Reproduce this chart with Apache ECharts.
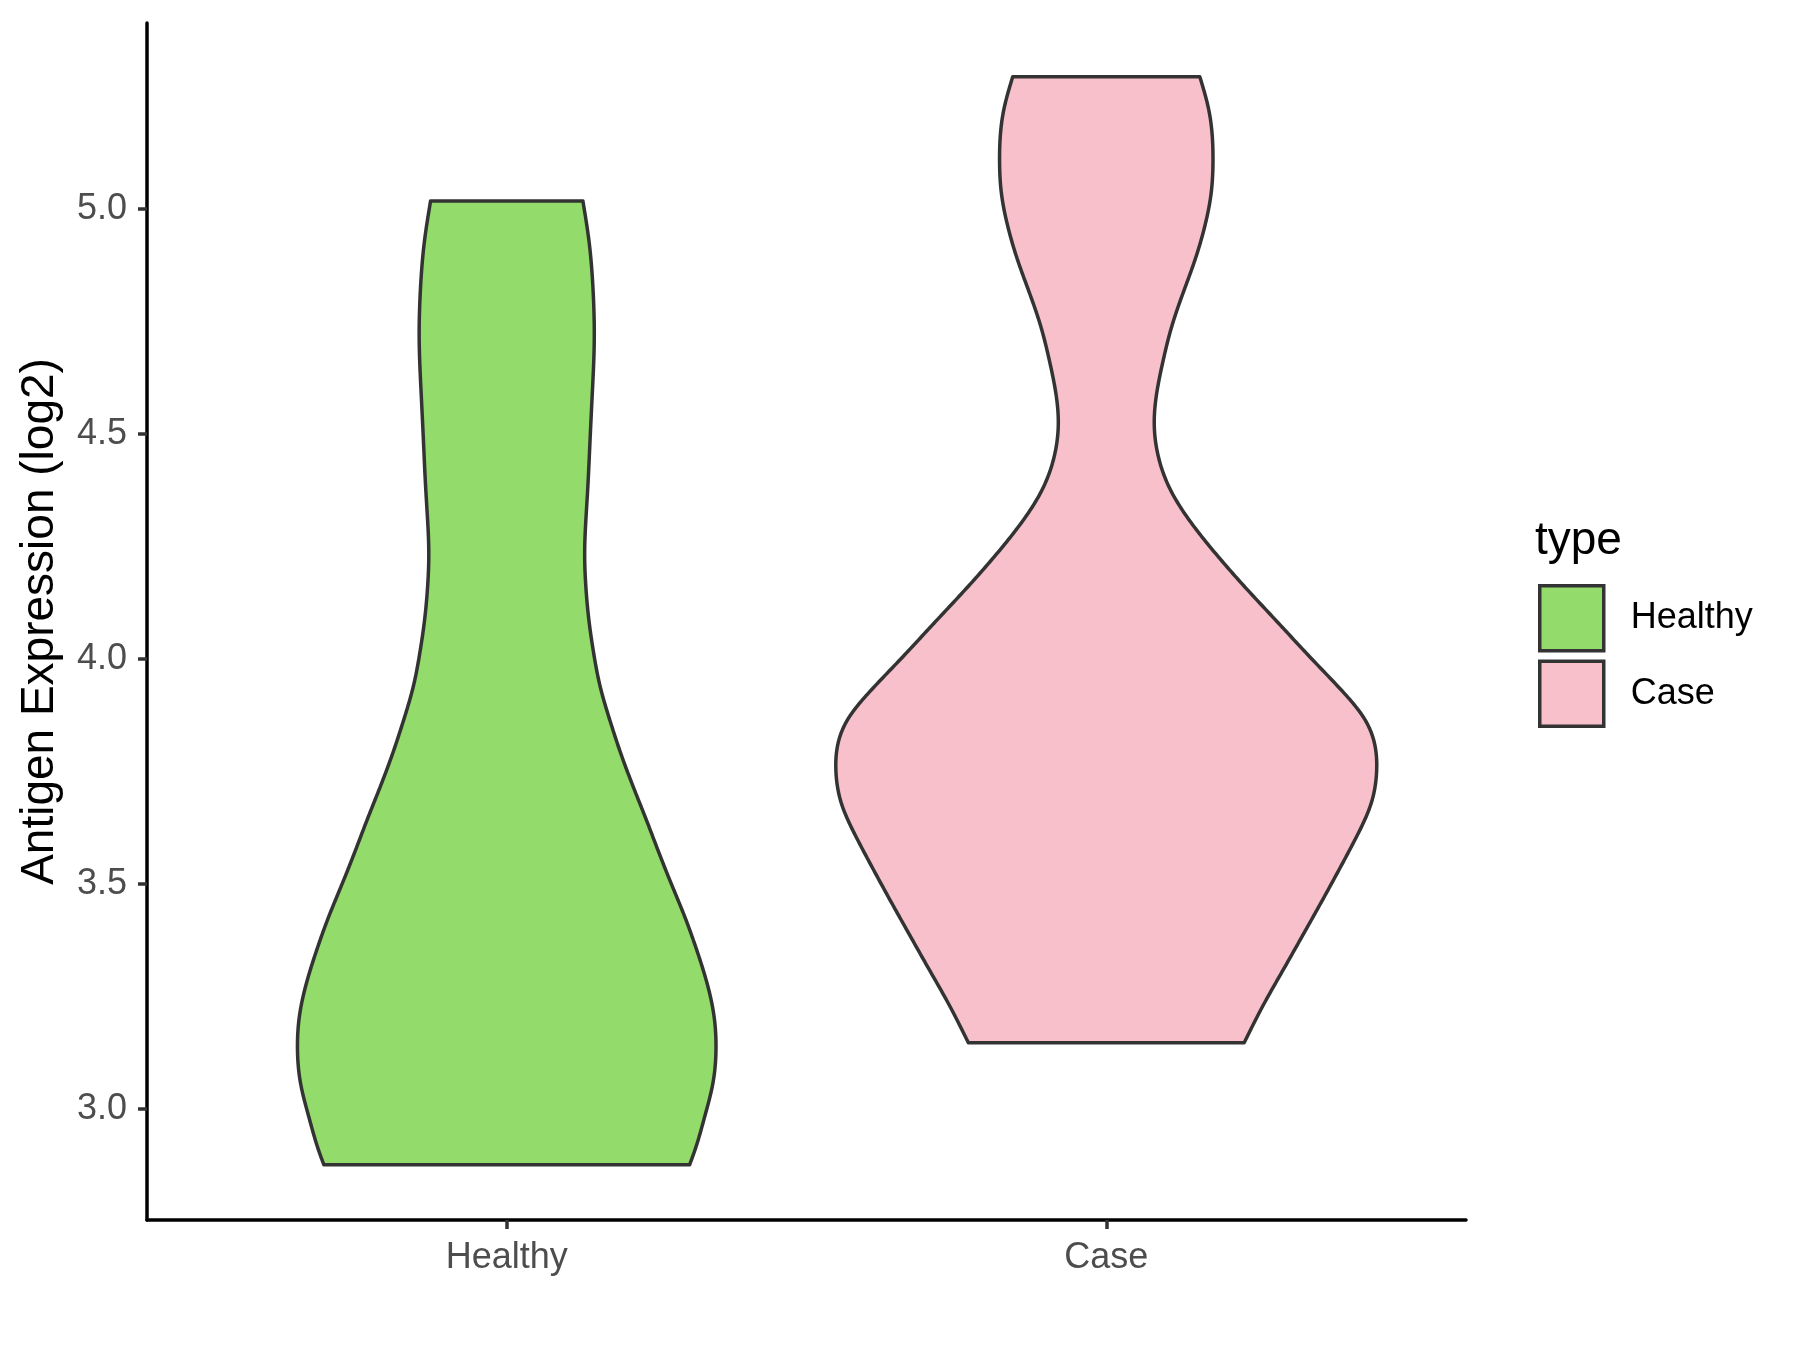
<!DOCTYPE html>
<html>
<head>
<meta charset="utf-8">
<script src="https://cdn.jsdelivr.net/npm/echarts@6/dist/echarts.min.js"></script>
<style>
html,body{margin:0;padding:0;background:#fff;}
#chart{width:1800px;height:1350px;}
</style>
</head>
<body>
<div id="chart"></div>
<script>
// ---- data ----
var categories = ['Healthy', 'Case'];
var yTicks = [3.0, 3.5, 4.0, 4.5, 5.0];
var fillColors = ['#93DC6B', '#F7C0CB'];

// violin profiles: value (log2 expression) and density half-width (in category-axis units)
var healthyY  = [2.876, 2.909, 2.982, 3.058, 3.131, 3.204, 3.280, 3.353, 3.427, 3.502, 3.569, 3.642, 3.716, 3.791, 3.864, 3.938, 4.013, 4.087, 4.160, 4.236, 4.309, 4.376, 4.487, 4.598, 4.709, 4.820, 4.931, 5.018];
var healthyHW = [0.305, 0.314, 0.330, 0.344, 0.349, 0.346, 0.334, 0.317, 0.297, 0.274, 0.254, 0.233, 0.211, 0.190, 0.172, 0.156, 0.145, 0.137, 0.132, 0.130, 0.132, 0.135, 0.139, 0.143, 0.146, 0.144, 0.137, 0.127];

var caseY  = [3.147, 3.236, 3.309, 3.382, 3.458, 3.531, 3.604, 3.680, 3.753, 3.864, 3.931, 4.004, 4.080, 4.153, 4.227, 4.302, 4.376, 4.449, 4.524, 4.598, 4.664, 4.738, 4.813, 4.887, 4.960, 5.036, 5.109, 5.220, 5.294];
var caseHW = [0.230, 0.264, 0.295, 0.326, 0.358, 0.388, 0.417, 0.442, 0.451, 0.432, 0.392, 0.340, 0.287, 0.236, 0.187, 0.142, 0.107, 0.087, 0.080, 0.085, 0.095, 0.109, 0.128, 0.148, 0.164, 0.175, 0.178, 0.171, 0.156];

var profiles = [
  {y: healthyY, hw: healthyHW},
  {y: caseY, hw: caseHW}
];

// natural cubic spline slopes (d hw / d y) at each knot, used only to draw a smooth outline
function splineSlopes(ys, xs) {
  var n = ys.length, h = [], i;
  for (i = 0; i < n - 1; i++) h.push(ys[i + 1] - ys[i]);
  var a = [], b = [], c = [], d = [];
  for (i = 0; i < n; i++) {
    if (i === 0 || i === n - 1) { a.push(0); b.push(1); c.push(0); d.push(0); }
    else {
      a.push(h[i - 1]); b.push(2 * (h[i - 1] + h[i])); c.push(h[i]);
      d.push(6 * ((xs[i + 1] - xs[i]) / h[i] - (xs[i] - xs[i - 1]) / h[i - 1]));
    }
  }
  for (i = 1; i < n; i++) { var w = a[i] / b[i - 1]; b[i] -= w * c[i - 1]; d[i] -= w * d[i - 1]; }
  var M = new Array(n);
  M[n - 1] = d[n - 1] / b[n - 1];
  for (i = n - 2; i >= 0; i--) M[i] = (d[i] - c[i] * M[i + 1]) / b[i];
  var m = [];
  for (i = 0; i < n - 1; i++) m.push((xs[i + 1] - xs[i]) / h[i] - h[i] * (2 * M[i] + M[i + 1]) / 6);
  m.push((xs[n - 1] - xs[n - 2]) / h[n - 2] + h[n - 2] * (M[n - 2] + 2 * M[n - 1]) / 6);
  return m;
}

// outline of one side (half widths), bottom to top, sampled along Hermite segments
function outline(ys, hw, slopes) {
  var out = [], SUB = 16;
  for (var i = 0; i < ys.length - 1; i++) {
    var h = ys[i + 1] - ys[i];
    for (var k = 0; k < SUB; k++) {
      var t = k / SUB, t2 = t * t, t3 = t2 * t;
      var h00 = 2 * t3 - 3 * t2 + 1, h10 = t3 - 2 * t2 + t, h01 = -2 * t3 + 3 * t2, h11 = t3 - t2;
      out.push([ys[i] + t * h, h00 * hw[i] + h10 * h * slopes[i] + h01 * hw[i + 1] + h11 * h * slopes[i + 1]]);
    }
  }
  out.push([ys[ys.length - 1], hw[hw.length - 1]]);
  return out;
}

function makeRender(idx) {
  return function (params, api) {
    var pos = idx + 1;
    var prof = profiles[idx];
    var slopes = splineSlopes(prof.y, prof.hw);
    var side = outline(prof.y, prof.hw, slopes);
    var pts = [], i;
    for (i = 0; i < side.length; i++) pts.push(api.coord([pos - side[i][1], side[i][0]]));
    for (i = side.length - 1; i >= 0; i--) pts.push(api.coord([pos + side[i][1], side[i][0]]));
    return {
      type: 'polygon',
      shape: {points: pts},
      style: {fill: fillColors[idx], stroke: '#333333', lineWidth: 3.5, lineJoin: 'round'}
    };
  };
}

var FONT = '"Liberation Sans", Arial, sans-serif';

var chart = echarts.init(document.getElementById('chart'), null, {renderer: 'canvas'});
chart.setOption({
  backgroundColor: '#ffffff',
  animation: false,
  textStyle: {fontFamily: FONT},
  title: {
    text: 'type', left: 1535, top: 518, padding: 0,
    textStyle: {fontFamily: FONT, fontSize: 46, fontWeight: 'normal', color: '#000000'}
  },
  legend: {
    orient: 'vertical', left: 1538, top: 584, padding: 0,
    itemWidth: 64, itemHeight: 65, itemGap: 7,
    icon: 'rect',
    textStyle: {fontFamily: FONT, fontSize: 36, color: '#000000', padding: [0, 0, 0, 22]},
    data: [
      {name: 'Healthy', itemStyle: {color: fillColors[0], borderColor: '#333333', borderWidth: 3.5}},
      {name: 'Case', itemStyle: {color: fillColors[1], borderColor: '#333333', borderWidth: 3.5}}
    ]
  },
  grid: {left: 147, right: 334, top: 23, bottom: 130, containLabel: false},
  xAxis: {
    type: 'value', min: 0.4, max: 2.6,
    splitLine: {show: false},
    axisLine: {show: true, onZero: false, lineStyle: {color: '#000000', width: 3.5}},
    axisTick: {show: true, customValues: [1, 2], length: 9, lineStyle: {color: '#333333', width: 3.5}},
    axisLabel: {
      customValues: [1, 2], margin: 20,
      fontFamily: FONT, fontSize: 36, color: '#4D4D4D',
      formatter: function (v) { return categories[Math.round(v) - 1]; }
    }
  },
  yAxis: {
    type: 'value', min: 2.7533, max: 5.4133,
    name: 'Antigen Expression (log2)', nameLocation: 'middle', nameGap: 84,
    nameTextStyle: {fontFamily: FONT, fontSize: 46, color: '#000000'},
    splitLine: {show: false},
    axisLine: {show: true, onZero: false, lineStyle: {color: '#000000', width: 3.5}},
    axisTick: {show: true, customValues: yTicks, length: 9, lineStyle: {color: '#333333', width: 3.5}},
    axisLabel: {
      customValues: yTicks, margin: 20,
      fontFamily: FONT, fontSize: 36, color: '#4D4D4D',
      formatter: function (v) { return v.toFixed(1); }
    }
  },
  series: [
    {name: 'Healthy', type: 'custom', renderItem: makeRender(0), data: [[1, 4]],
     itemStyle: {color: fillColors[0], borderColor: '#333333', borderWidth: 3.5}},
    {name: 'Case', type: 'custom', renderItem: makeRender(1), data: [[2, 4]],
     itemStyle: {color: fillColors[1], borderColor: '#333333', borderWidth: 3.5}}
  ]
});
</script>
</body>
</html>
